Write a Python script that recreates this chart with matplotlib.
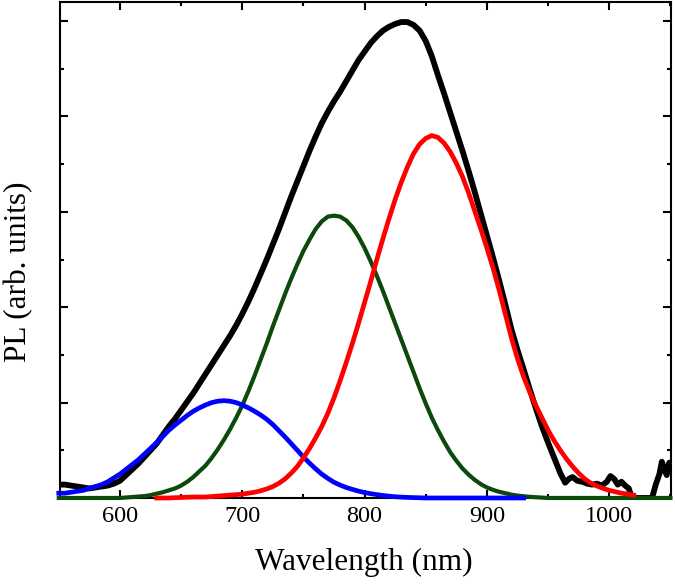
import matplotlib
matplotlib.use("Agg")
import matplotlib.pyplot as plt
from matplotlib.ticker import MultipleLocator, NullFormatter

plt.rcParams['font.family'] = ['Liberation Serif', 'DejaVu Serif']

# fitted components, sampled every 5 nm
blue_start = 550
blue = [0.05, 0.05, 0.06, 0.07, 0.08, 0.10, 0.12, 0.14, 0.17, 0.21,
        0.25, 0.30, 0.35, 0.40, 0.46, 0.52, 0.58, 0.645, 0.71, 0.765,
        0.815, 0.865, 0.91, 0.945, 0.975, 1.00, 1.015, 1.02, 1.015, 1.00,
        0.975, 0.945, 0.91, 0.87, 0.825, 0.77, 0.705, 0.64, 0.57, 0.50,
        0.43, 0.365, 0.305, 0.25, 0.205, 0.165, 0.135, 0.11, 0.09, 0.072,
        0.057, 0.045, 0.035, 0.026, 0.019, 0.013, 0.009, 0.006, 0.004, 0.002,
        0.0, 0.0, 0.0, 0.0, 0.0, 0.0, 0.0, 0.0, 0.0, 0.0,
        0.0, 0.0, 0.0, 0.0, 0.0, 0.0, 0.0]

green_start = 550
green = [0, 0, 0, 0, 0, 0, 0, 0, 0, 0, 0,
         0.005, 0.01, 0.015, 0.02, 0.03, 0.045, 0.06, 0.08, 0.10, 0.13,
         0.17, 0.22, 0.28, 0.34, 0.42, 0.51, 0.61, 0.72, 0.84, 0.97,
         1.12, 1.28, 1.45, 1.62, 1.80, 1.97, 2.14, 2.30, 2.45, 2.59,
         2.71, 2.82, 2.90, 2.95, 2.96, 2.95, 2.91, 2.84, 2.74, 2.62,
         2.48, 2.33, 2.17, 2.00, 1.83, 1.66, 1.49, 1.32, 1.15, 0.99,
         0.84, 0.71, 0.59, 0.48, 0.39, 0.31, 0.245, 0.19, 0.145, 0.11,
         0.085, 0.065, 0.05, 0.035, 0.025, 0.018, 0.012, 0.008, 0.004,
         0, 0, 0, 0, 0, 0, 0, 0, 0, 0, 0, 0, 0, 0, 0, 0, 0, 0, 0, 0, 0]

red_start = 630
red = [0.0, 0.0, 0.0, 0.003, 0.005, 0.008, 0.01, 0.01, 0.01, 0.015,
       0.02, 0.025, 0.03, 0.035, 0.04, 0.05, 0.06, 0.075, 0.095, 0.12,
       0.155, 0.20, 0.26, 0.33, 0.42, 0.52, 0.63, 0.75, 0.89, 1.05,
       1.23, 1.42, 1.62, 1.83, 2.05, 2.27, 2.50, 2.72, 2.93, 3.13,
       3.31, 3.47, 3.61, 3.71, 3.77, 3.80, 3.78, 3.72, 3.63, 3.51,
       3.37, 3.20, 3.01, 2.82, 2.62, 2.41, 2.18, 1.93, 1.68, 1.46,
       1.27, 1.11, 0.97, 0.84, 0.71, 0.60, 0.50, 0.41, 0.33, 0.26,
       0.20, 0.155, 0.125, 0.10, 0.08, 0.065, 0.05, 0.04, 0.03]

# measured PL spectrum: 5 nm steps up to 960 nm, then the noisy tail
meas_start = 550
meas_main = [0.14, 0.14, 0.13, 0.12, 0.11, 0.10, 0.11, 0.12, 0.13, 0.15,
             0.18, 0.24, 0.30, 0.36, 0.43, 0.50, 0.57, 0.66, 0.75, 0.83,
             0.92, 1.01, 1.10, 1.20, 1.30, 1.40, 1.50, 1.60, 1.70, 1.81,
             1.93, 2.06, 2.20, 2.35, 2.50, 2.66, 2.82, 2.99, 3.16, 3.32,
             3.48, 3.64, 3.79, 3.93, 4.05, 4.16, 4.26, 4.37, 4.48, 4.59,
             4.68, 4.77, 4.84, 4.90, 4.94, 4.97, 4.99, 4.99, 4.96, 4.90,
             4.79, 4.63, 4.43, 4.24, 4.04, 3.84, 3.64, 3.43, 3.21, 2.98,
             2.75, 2.52, 2.28, 2.03, 1.77, 1.55, 1.35, 1.14, 0.94, 0.75,
             0.58, 0.42, 0.26]
tail_wl = [964, 967, 970, 974, 978, 982, 986, 990, 994, 998,
           1001, 1004, 1007, 1010, 1013, 1016, 1018, 1020, 1035, 1038,
           1041, 1043, 1045, 1047, 1049, 1051]
tail = [0.16, 0.20, 0.22, 0.18, 0.17, 0.15, 0.14, 0.15, 0.13, 0.17,
        0.23, 0.20, 0.14, 0.17, 0.13, 0.10, 0.02, 0.0, 0.0, 0.14,
        0.25, 0.38, 0.30, 0.24, 0.37, 0.30]

blue_wl = [blue_start + 5 * i for i in range(len(blue))]
green_wl = [green_start + 5 * i for i in range(len(green))]
red_wl = [red_start + 5 * i for i in range(len(red))]
meas_wl = [meas_start + 5 * i for i in range(len(meas_main))] + tail_wl
meas = meas_main + tail

fig = plt.figure(figsize=(6.75, 5.88), dpi=100)
ax = fig.add_axes([0.0889, 0.1531, 0.9052, 0.8435])

ax.plot(meas_wl, meas, color='black', lw=4.2, zorder=2, solid_joinstyle='round')
ax.plot(green_wl, green, color='#0b4a0b', lw=3.0, zorder=3, clip_on=False)
ax.plot(blue_wl, blue, color='#0000ff', lw=3.4, zorder=4, clip_on=False)
ax.plot(red_wl, red, color='#ff0000', lw=3.4, zorder=5, clip_on=False)

ax.set_xlim(551, 1050.5)
ax.set_ylim(0, 5.2)
ax.xaxis.set_major_locator(MultipleLocator(100))
ax.xaxis.set_minor_locator(MultipleLocator(50))
ax.yaxis.set_major_locator(MultipleLocator(1))
ax.yaxis.set_minor_locator(MultipleLocator(0.5))
ax.yaxis.set_major_formatter(NullFormatter())
ax.tick_params(which='both', direction='in', top=True, right=True, width=1.5)
ax.tick_params(which='major', length=5.5, labelsize=17.5, pad=6)
ax.tick_params(which='minor', length=3)
for s in ax.spines.values():
    s.set_linewidth(1.5)

fig.text(0.5385, 0.044, 'Wavelength (nm)', fontsize=22.5, ha='center', va='center')
fig.text(0.027, 0.538, 'PL (arb. units)', fontsize=22.5, ha='center', va='center',
         rotation=90)

fig.savefig('out.png', dpi=100)
